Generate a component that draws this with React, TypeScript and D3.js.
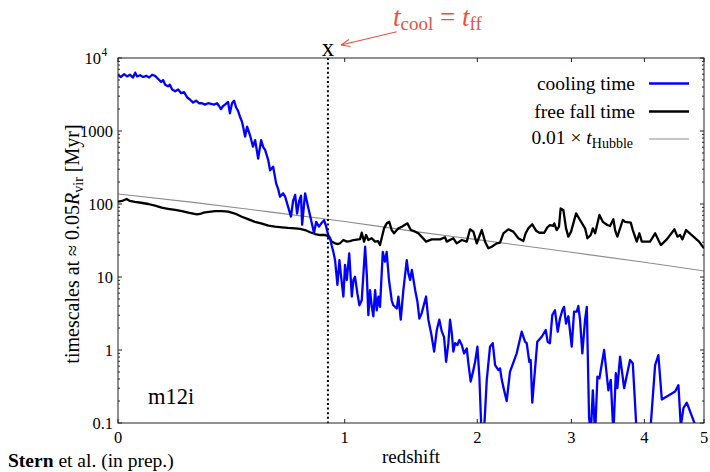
import React from 'react';
import * as d3 from 'd3';

// cooling time (blue)
const coolZ = [0, 0.009, 0.019, 0.028, 0.037, 0.047, 0.054, 0.06, 0.07, 0.08, 0.09, 0.1, 0.11, 0.12, 0.13, 0.141, 0.148, 0.155, 0.165, 0.172, 0.18, 0.191, 0.202, 0.213, 0.224, 0.235, 0.246, 0.258, 0.27, 0.281, 0.293, 0.305, 0.317, 0.329, 0.341, 0.354, 0.362, 0.37, 0.379, 0.387, 0.4, 0.408, 0.417, 0.426, 0.435, 0.443, 0.452, 0.461, 0.466, 0.475, 0.484, 0.497, 0.511, 0.521, 0.535, 0.549, 0.559, 0.568, 0.583, 0.592, 0.607, 0.622, 0.632, 0.641, 0.657, 0.667, 0.682, 0.697, 0.708, 0.719, 0.729, 0.74, 0.75, 0.756, 0.772, 0.788, 0.805, 0.821, 0.833, 0.849, 0.861, 0.878, 0.89, 0.901, 0.913, 0.922, 0.932, 0.942, 0.956, 0.968, 0.976, 0.992, 1.002, 1.013, 1.028, 1.044, 1.054, 1.064, 1.079, 1.092, 1.107, 1.129, 1.14, 1.15, 1.161, 1.173, 1.183, 1.195, 1.206, 1.217, 1.228, 1.247, 1.262, 1.274, 1.29, 1.309, 1.321, 1.345, 1.357, 1.374, 1.393, 1.418, 1.43, 1.443, 1.456, 1.481, 1.498, 1.513, 1.531, 1.565, 1.583, 1.605, 1.629, 1.651, 1.671, 1.691, 1.71, 1.727, 1.746, 1.76, 1.775, 1.788, 1.803, 1.823, 1.84, 1.861, 1.881, 1.905, 1.919, 1.94, 1.964, 1.98, 2.001, 2.019, 2.039, 2.063, 2.088, 2.119, 2.145, 2.168, 2.2, 2.216, 2.233, 2.256, 2.282, 2.315, 2.384, 2.436, 2.471, 2.489, 2.517, 2.532, 2.549, 2.604, 2.653, 2.698, 2.72, 2.746, 2.773, 2.804, 2.836, 2.863, 2.891, 2.911, 2.935, 2.963, 3.004, 3.033, 3.066, 3.086, 3.107, 3.136, 3.171, 3.193, 3.222, 3.244, 3.271, 3.301, 3.331, 3.358, 3.421, 3.479, 3.512, 3.548, 3.582, 3.604, 3.642, 3.7, 3.786, 3.826, 3.885, 4.088, 4.167, 4.219, 4.274, 4.493, 4.549, 4.589, 4.634, 4.692, 4.875];
const coolT = [5800, 5500, 6000, 5600, 5900, 5400, 6300, 5600, 5800, 5500, 5700, 5400, 5900, 5700, 5200, 4700, 5000, 4300, 4100, 4300, 3700, 3500, 3700, 3300, 3400, 2900, 2700, 2450, 2600, 2400, 2400, 2300, 2400, 2350, 2300, 2400, 2200, 2000, 2200, 2300, 2500, 1750, 2400, 2600, 2100, 1900, 1570, 1340, 1145, 840, 1150, 880, 610, 750, 420, 750, 600, 550, 400, 290, 325, 190, 160, 126, 140, 126, 92, 67, 110, 133, 74, 110, 130, 52, 140, 92, 60, 40, 57, 49, 54, 60, 49, 38, 34, 27, 22, 17, 7.8, 17, 11.2, 5.4, 14.6, 9.1, 21, 5.4, 9.1, 10.1, 6.0, 4.1, 4.8, 26, 10.6, 3.0, 6.6, 3.9, 2.9, 6.6, 3.5, 5.4, 3.9, 22, 16.2, 22, 9.1, 4.8, 4.1, 3.7, 5.4, 2.6, 6.6, 17, 11.2, 9.1, 12.5, 6.6, 4.6, 2.7, 3.2, 5.4, 2.6, 1.7, 0.95, 1.9, 2.6, 1.8, 1.5, 0.69, 1.24, 2.6, 1.7, 0.95, 1.24, 1.17, 1.37, 1.17, 0.9, 1.05, 0.66, 0.37, 0.53, 0.69, 1.11, 0.43, 0.07, 0.08, 0.39, 1.11, 1.24, 0.62, 0.53, 0.56, 0.39, 0.28, 0.2, 0.5, 0.9, 1.78, 1.3, 1.24, 0.69, 0.73, 0.19, 1.3, 1.52, 1.88, 1.3, 1.24, 3.0, 3.5, 1.78, 2.7, 3.5, 3.9, 2.3, 2.9, 1.11, 3.35, 3.35, 4.0, 2.6, 0.9, 2.6, 3.9, 0.12, 0.07, 0.28, 0.07, 0.43, 0.41, 1.0, 0.28, 0.39, 0.07, 0.48, 0.3, 0.81, 0.3, 0.73, 0.66, 0.07, 0.07, 0.62, 0.85, 0.21, 0.27, 0.33, 0.09, 0.16, 0.19, 0.08];

// free fall time (black)
const ffZ = [0, 0.0125, 0.027, 0.037, 0.053, 0.073, 0.097, 0.12, 0.143, 0.165, 0.191, 0.216, 0.24, 0.258, 0.273, 0.285, 0.298, 0.321, 0.345, 0.374, 0.401, 0.43, 0.46, 0.488, 0.52, 0.553, 0.584, 0.616, 0.65, 0.682, 0.718, 0.745, 0.772, 0.799, 0.827, 0.855, 0.884, 0.901, 0.923, 0.942, 0.96, 0.972, 0.992, 1.013, 1.033, 1.054, 1.086, 1.096, 1.107, 1.122, 1.135, 1.15, 1.172, 1.195, 1.215, 1.228, 1.256, 1.274, 1.292, 1.309, 1.326, 1.357, 1.382, 1.423, 1.448, 1.481, 1.505, 1.534, 1.565, 1.61, 1.677, 1.718, 1.732, 1.788, 1.817, 1.861, 1.905, 1.934, 1.964, 1.995, 2.041, 2.072, 2.103, 2.135, 2.184, 2.216, 2.249, 2.298, 2.349, 2.401, 2.453, 2.478, 2.506, 2.549, 2.59, 2.626, 2.682, 2.716, 2.746, 2.785, 2.796, 2.824, 2.851, 2.871, 2.903, 2.935, 2.963, 2.996, 3.058, 3.107, 3.171, 3.201, 3.244, 3.271, 3.301, 3.358, 3.403, 3.465, 3.502, 3.548, 3.572, 3.604, 3.681, 3.714, 3.796, 3.826, 3.885, 3.924, 3.961, 4.088, 4.167, 4.258, 4.355, 4.482, 4.532, 4.577, 4.617, 4.68, 4.78, 4.91, 5.0];
const ffT = [108, 110, 117, 110, 107, 104, 100, 95, 89, 86, 83, 80, 76, 74, 72, 73, 76, 78, 80, 80, 78.5, 74, 67, 62, 57, 54, 50.5, 49, 47.9, 47, 46.4, 45.5, 44, 41, 38.8, 37.6, 37.6, 36, 30.5, 28.9, 28.3, 29, 32.1, 30.5, 31, 32.1, 32.8, 33, 40.4, 30.5, 37.6, 32.1, 33.9, 30.5, 31, 27.4, 46.4, 54.3, 57, 44, 39.7, 46.4, 48.9, 54.3, 44, 41.8, 39.7, 35, 30.5, 32.8, 32.8, 35, 30.5, 33.9, 28.9, 32.1, 30.5, 45, 41.8, 28.9, 44, 30.5, 24.7, 26, 28.9, 29.5, 39.7, 45, 41.8, 33.9, 31.1, 39.7, 46.4, 52.7, 43.1, 40.4, 40.4, 47.9, 51.5, 50, 54.3, 44, 48.9, 87, 83, 46.4, 35.7, 41.8, 74.5, 60.4, 46.4, 33.9, 37.6, 46.4, 39.7, 70.7, 57, 51.5, 50, 61.7, 44, 35.7, 60.4, 57, 55.6, 44, 30.5, 39.7, 30.5, 30.5, 39.7, 27.4, 32.8, 45, 35.7, 37.6, 32.8, 44, 37.6, 30.5, 24.7];

// 0.01 x t_Hubble (gray)
const hubZ = [0, 0.25, 0.5, 1, 1.5, 2, 3, 4, 5];
const hubT = [137, 106, 84, 57.5, 41.5, 32.5, 21.8, 15.9, 12.1];

const xTicks = [0, 1, 2, 3, 4, 5];
const yTicks = [0.1, 1, 10, 100, 1000];
const yTickLabels = ['0.1', '1', '10', '100', '1000'];
const zCross = 0.9;

const FONT = "'Liberation Serif', 'DejaVu Serif', serif";
const RED = '#e8503f';

export default function App() {
  const L = 118, R = 704, T = 58, B = 423;
  const x = d3.scaleLog().domain([1, 6]).range([L, R]);
  const y = d3.scaleLog().domain([0.1, 10000]).range([B, T]);
  const px = (z: number) => x(1 + z);

  const line = d3.line<[number, number]>().x(d => px(d[0])).y(d => y(d[1]));
  const coolPath = line(coolZ.map((z, i) => [z, coolT[i]] as [number, number])) || '';
  const ffPath = line(ffZ.map((z, i) => [z, ffT[i]] as [number, number])) || '';
  const hubPath = d3.line<[number, number]>().curve(d3.curveMonotoneX).x(d => px(d[0])).y(d => y(d[1]))(
    hubZ.map((z, i) => [z, hubT[i]] as [number, number])) || '';

  const minor: number[] = [];
  [0.1, 1, 10, 100, 1000].forEach(dec => { for (let k = 2; k <= 9; k++) minor.push(dec * k); });
  const majors = [0.1, 1, 10, 100, 1000, 10000];

  const ax = '#222';
  const xc = px(zCross);

  return (
    <svg width={710} height={472} style={{ position: 'absolute', left: 0, top: 0, background: '#fff' }} fontFamily={FONT}>
      <defs>
        <clipPath id="plotclip"><rect x={L} y={T} width={R - L} height={B - T} /></clipPath>
      </defs>
      <rect x={0} y={0} width={710} height={472} fill="#fff" />
      <g clipPath="url(#plotclip)">
        <path d={hubPath} fill="none" stroke="#8c8c8c" strokeWidth={1.1} />
        <path d={ffPath} fill="none" stroke="#000" strokeWidth={2.3} strokeLinejoin="round" />
        <path d={coolPath} fill="none" stroke="#0000ff" strokeWidth={2.3} strokeLinejoin="round" />
        <line x1={xc} x2={xc} y1={T} y2={B} stroke="#000" strokeWidth={2} strokeDasharray="2 2.6" />
      </g>
      {/* ticks */}
      {majors.map(v => (
        <g key={'M' + v}>
          <line x1={L} x2={L + 4} y1={y(v)} y2={y(v)} stroke={ax} />
          <line x1={R} x2={R - 4} y1={y(v)} y2={y(v)} stroke={ax} />
        </g>
      ))}
      {minor.map(v => (
        <g key={'m' + v}>
          <line x1={L} x2={L + 2} y1={y(v)} y2={y(v)} stroke={ax} />
          <line x1={R} x2={R - 2} y1={y(v)} y2={y(v)} stroke={ax} />
        </g>
      ))}
      {xTicks.map(t => (
        <g key={'x' + t}>
          <line x1={px(t)} x2={px(t)} y1={B} y2={B - 4} stroke={ax} />
          <line x1={px(t)} x2={px(t)} y1={T} y2={T + 4} stroke={ax} />
          <text x={px(t)} y={B + 19.5} textAnchor="middle" fontSize={16.5}>{t}</text>
        </g>
      ))}
      {yTicks.map((v, i) => (
        <text key={'yl' + v} x={113} y={y(v) + 6} textAnchor="end" fontSize={16.5}>{yTickLabels[i]}</text>
      ))}
      <text x={101} y={y(10000) + 6} textAnchor="end" fontSize={16.5}>10</text>
      <text x={101.5} y={y(10000) - 2} fontSize={11.5}>4</text>
      {/* frame */}
      <rect x={L} y={T} width={R - L} height={B - T} fill="none" stroke={ax} strokeWidth={1} />

      {/* axis labels */}
      <text x={(L + R) / 2} y={463} textAnchor="middle" fontSize={19}>redshift</text>
      <text transform="translate(79,244) rotate(-90)" textAnchor="middle" fontSize={20}>
        <tspan>timescales at  ≈ 0.05</tspan>
        <tspan fontStyle="italic">R</tspan>
        <tspan fontSize={14} dy={4}>vir</tspan>
        <tspan dy={-4}>  [Myr]</tspan>
      </text>
      <text x={8} y={467} fontSize={19.5}>
        <tspan fontWeight="bold">Stern</tspan>
        <tspan> et al. (in prep.)</tspan>
      </text>
      <text x={148} y={404} fontSize={22.5}>m12i</text>

      {/* legend */}
      <text x={635} y={89.5} textAnchor="end" fontSize={19.5}>cooling time</text>
      <line x1={649} x2={689} y1={83.5} y2={83.5} stroke="#0000ff" strokeWidth={2.3} />
      <text x={635} y={117.5} textAnchor="end" fontSize={19.5}>free fall time</text>
      <line x1={649} x2={689} y1={111.5} y2={111.5} stroke="#000" strokeWidth={2.3} />
      <text x={633} y={144} textAnchor="end" fontSize={19.5}>
        <tspan>0.01 × </tspan>
        <tspan fontStyle="italic">t</tspan>
        <tspan fontSize={14} dy={4}>Hubble</tspan>
      </text>
      <line x1={649} x2={689} y1={139} y2={139} stroke="#8c8c8c" strokeWidth={1.1} />

      {/* annotation */}
      <text x={xc} y={56} textAnchor="middle" fontSize={25}>x</text>
      <line x1={396.7} y1={31.7} x2={341} y2={45} stroke={RED} strokeWidth={1.1} />
      <path d="M341,45 L349,39.5 M341,45 L350.5,46.5" fill="none" stroke={RED} strokeWidth={1.1} />
      <text x={393} y={26} fontSize={27} fill={RED}>
        <tspan fontStyle="italic">t</tspan>
        <tspan fontSize={19} dy={4}>cool</tspan>
        <tspan dy={-4}> = </tspan>
        <tspan fontStyle="italic">t</tspan>
        <tspan fontSize={19} dy={4}>ff</tspan>
      </text>
    </svg>
  );
}
